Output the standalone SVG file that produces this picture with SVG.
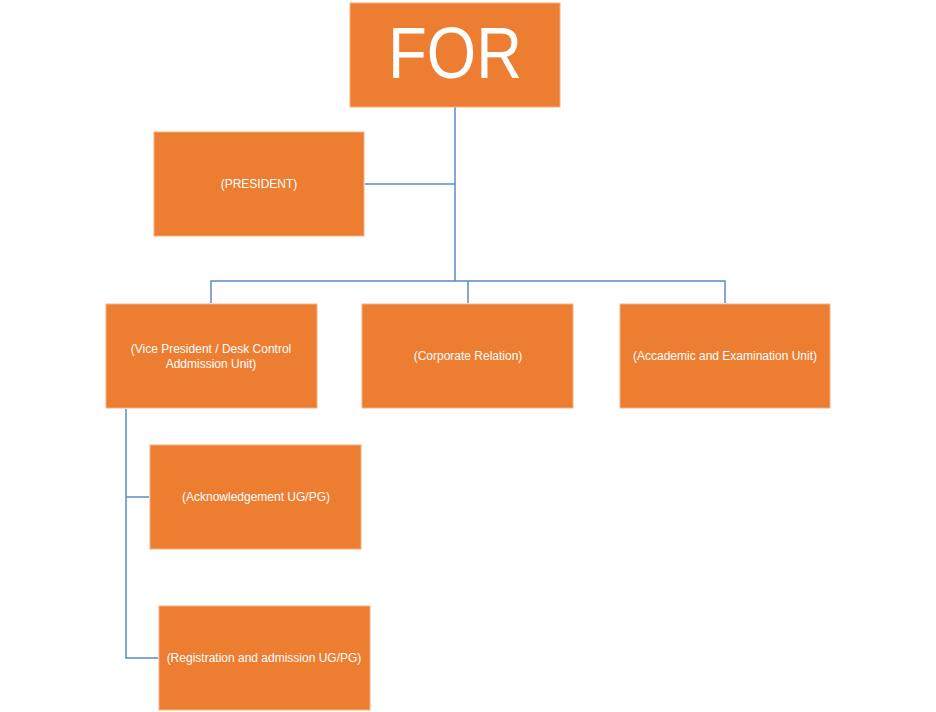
<svg xmlns="http://www.w3.org/2000/svg" width="936" height="712" viewBox="0 0 936 712">
<style>
.box{fill:#ED7D31;stroke:#F4B183;stroke-width:1}
.t{fill:#ffffff;font-family:"Liberation Sans",Arial,sans-serif;font-size:12px;text-anchor:middle}
.big{fill:#ffffff;font-family:"Liberation Sans",Arial,sans-serif;font-size:72px;text-anchor:middle}
.c{fill:none;stroke:#5B8CC0;stroke-width:1.5}
</style>
<rect width="936" height="712" fill="#ffffff"/>
<g id="connectors">
<path class="c" d="M455,107 V281"/>
<path class="c" d="M365,184 H455"/>
<path class="c" d="M211,303 V281 H725 V303"/>
<path class="c" d="M468,281 V303"/>
<path class="c" d="M126,409 V658 H158"/>
<path class="c" d="M126,497 H149"/>
</g>
<g id="for">
<rect class="box" x="350" y="3" width="210" height="104"/>
<text class="big" x="455" y="78" textLength="134" lengthAdjust="spacingAndGlyphs">FOR</text>
</g>
<g id="president">
<rect class="box" x="154" y="132" width="210" height="104"/>
<text class="t" x="259" y="188">(PRESIDENT)</text>
</g>
<g id="vice-president">
<rect class="box" x="106" y="304" width="211" height="104"/>
<text class="t" x="211" y="353">(Vice President / Desk Control</text>
<text class="t" x="211" y="368">Addmission Unit)</text>
</g>
<g id="corporate">
<rect class="box" x="362" y="304" width="211" height="104"/>
<text class="t" x="468" y="360">(Corporate Relation)</text>
</g>
<g id="academic">
<rect class="box" x="620" y="304" width="210" height="104"/>
<text class="t" x="725" y="360">(Accademic and Examination Unit)</text>
</g>
<g id="acknowledgement">
<rect class="box" x="150" y="445" width="211" height="104"/>
<text class="t" x="256" y="501">(Acknowledgement UG/PG)</text>
</g>
<g id="registration">
<rect class="box" x="159" y="606" width="211" height="104"/>
<text class="t" x="264" y="662">(Registration and admission UG/PG)</text>
</g>
</svg>
